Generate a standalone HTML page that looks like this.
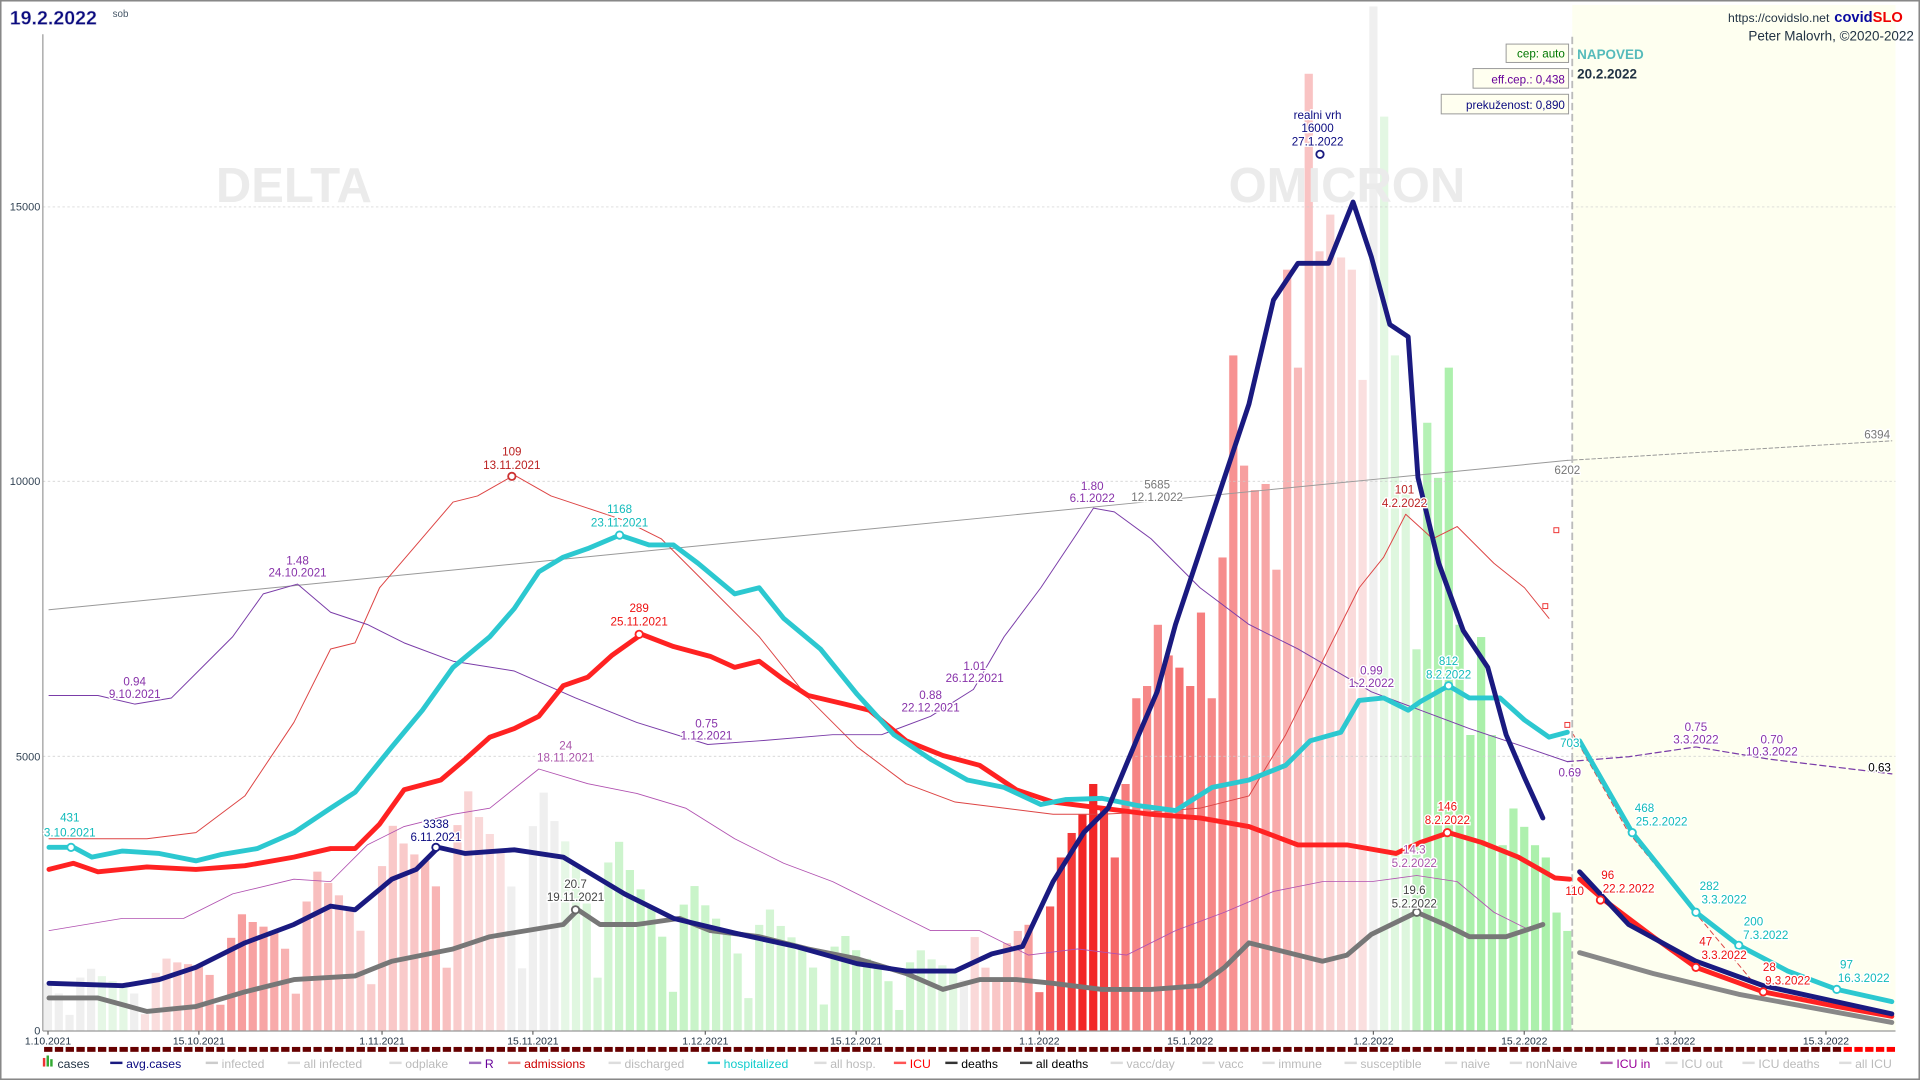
<!DOCTYPE html>
<html><head><meta charset="utf-8"><style>
html,body{margin:0;padding:0;background:#fff;overflow:hidden}
svg{display:block}
text{font-family:"Liberation Sans",sans-serif}
</style></head><body>
<svg id="s" width="1920" height="1080" viewBox="0 0 1568 882" xmlns="http://www.w3.org/2000/svg">
<rect x="0.5" y="0.5" width="1567" height="881" fill="#fff" stroke="#888" stroke-width="1.5"/>
<rect x="1284" y="4" width="264" height="838" fill="#fefff0"/>
<g id="bars"></g>
<g stroke="#ccc" stroke-width="0.6" stroke-dasharray="2,2">
<line x1="35" y1="169" x2="1548" y2="169"/><line x1="35" y1="393" x2="1548" y2="393"/><line x1="35" y1="617.6" x2="1548" y2="617.6"/>
</g>
<line x1="1284" y1="30" x2="1284" y2="842" stroke="#bbb" stroke-width="1.5" stroke-dasharray="6,3"/>
<text x="240" y="165" font-size="40" font-weight="bold" fill="#ebebeb" text-anchor="middle">DELTA</text>
<text x="1100" y="165" font-size="40" font-weight="bold" fill="#ebebeb" text-anchor="middle">OMICRON</text>
<g id="lines"></g>
<line x1="35" y1="28" x2="35" y2="842" stroke="#999" stroke-width="1"/>
<line x1="35" y1="842" x2="1548" y2="842" stroke="#999" stroke-width="1"/>
<g font-size="9" fill="#345" text-anchor="end">
<text x="33" y="172">15000</text><text x="33" y="396">10000</text><text x="33" y="621">5000</text><text x="33" y="845">0</text>
</g>
<g id="dates" font-size="8.5" fill="#234" text-anchor="middle"></g>
<g id="strip"></g>
<g id="legend" font-size="10"></g>
<g id="ann" font-size="9.5" text-anchor="middle"></g>
<text x="8" y="20" font-size="16" font-weight="bold" fill="#0a0a80" stroke="#ccd" stroke-width="0.4">19.2.2022</text>
<text x="92" y="14" font-size="8" fill="#456">sob</text>
<text x="1494" y="18" font-size="10" fill="#234" text-anchor="end">https://covidslo.net</text>
<text x="1498" y="18" font-size="12" font-weight="bold" fill="#0a0aa0">covid<tspan fill="#e00">SLO</tspan></text>
<text x="1563" y="33" font-size="11" fill="#234" text-anchor="end">Peter Malovrh, ©2020-2022</text>
<rect x="1230" y="36" width="51" height="15" fill="#fffff0" stroke="#999" stroke-width="0.8"/>
<text x="1278" y="47" font-size="9.5" fill="#070" text-anchor="end">cep: auto</text>
<rect x="1203" y="56" width="78" height="16" fill="#fffff0" stroke="#999" stroke-width="0.8"/>
<text x="1278" y="68" font-size="9.5" fill="#609" text-anchor="end">eff.cep.: 0,438</text>
<rect x="1177" y="77" width="104" height="16" fill="#fffff0" stroke="#999" stroke-width="0.8"/>
<text x="1278" y="89" font-size="9.5" fill="#0a0a80" text-anchor="end">prekuženost: 0,890</text>
<text x="1288" y="48" font-size="11" font-weight="bold" fill="#5bb">NAPOVED</text>
<text x="1288" y="64" font-size="11" font-weight="bold" fill="#234">20.2.2022</text>
</svg>
<script>
const NS="http://www.w3.org/2000/svg";
function el(p,t,a,txt){const e=document.createElementNS(NS,t);for(const k in a)e.setAttribute(k,a[k]);if(txt!=null)e.textContent=txt;document.getElementById(p).appendChild(e);return e;}
const X=d=>39.2+8.8*d;
function interp(pts,x){if(x<=pts[0][0])return pts[0][1];for(let i=1;i<pts.length;i++){if(x<=pts[i][0]){const a=pts[i-1],b=pts[i];return a[1]+(b[1]-a[1])*(x-a[0])/(b[0]-a[0]);}}return pts[pts.length-1][1];}
const navy=[[40,803],[100,805],[130,800],[160,790],[200,770],[240,755],[270,740],[290,743],[320,718],[340,710],[358,692],[380,697],[420,694],[460,700],[480,712],[510,730],[550,750],[600,762],[650,773],[700,787],[740,793],[780,793],[810,779],[835,773],[860,720],[885,680],[905,660],[930,600],[945,565],[960,510],[1000,390],[1020,330],[1040,245],[1060,215],[1085,215],[1105,165],[1120,210],[1135,265],[1150,275],[1158,390],[1175,460],[1195,515],[1215,545],[1230,600],[1245,635],[1260,668]];
const man={86:765,87:790,88:800,89:770,90:760,91:755,92:810,93:740,94:700,95:680,96:665,97:640,98:660,99:700,100:640,101:570,102:560,103:510,104:535,105:545,106:560,107:500,108:570,109:455,110:290,111:380,112:400,113:395,114:465,115:220,116:300,117:60,118:205,119:175,120:210,121:220,122:310,123:5,124:95,125:290,126:400,127:530,128:345,129:390,130:300,131:510,132:600,133:520,134:600,135:690,136:660,137:675,138:690,139:700,140:745,141:760};
const wf=[1.0,0.8,0.35,1.15,1.35,1.2,1.1];
const av=d=>842-interp(navy,X(d));
for(let d=0;d<=141;d++){
 let top;
 if(man[d]!==undefined)top=man[d];else top=842-av(d)*wf[d%7];
 const r=av(d)/Math.max(5,av(Math.max(0,d-7)));
 let c;
 if(r>1.03){const t=Math.min(1,Math.pow((r-1)/1.4,1.2));c=`rgb(${Math.round(250-8*t)},${Math.round(228-190*t)},${Math.round(228-190*t)})`;}
 else if(r<0.97){const t=Math.min(1,(1-r)/0.45);c=`rgb(${Math.round(235-65*t)},${Math.round(248-8*t)},${Math.round(235-65*t)})`;}
 else c="#efefef";
 el("bars","rect",{x:X(d)-3.6,y:top,width:7.2,height:842-top,fill:c,stroke:"#fff","stroke-width":0.5});
}
function line(pts,col,w,extra){const a={points:pts.map(p=>p.join(",")).join(" "),fill:"none",stroke:col,"stroke-width":w,"stroke-linejoin":"round","stroke-linecap":"round"};Object.assign(a,extra||{});el("lines","polyline",a);}
line([[40,498],[1280,376]],"#999",0.8);
line([[1280,376],[1545,360]],"#999",0.8,{"stroke-dasharray":"3,2"});
line([[40,685],[120,685],[160,680],[200,650],[240,590],[270,530],[290,525],[310,480],[340,445],[370,410],[390,405],[420,388],[450,405],[480,415],[510,425],[540,440],[580,480],[620,520],[660,570],[700,610],[740,640],[780,655],[820,660],[860,665],[900,665],[940,663],[980,660],[1020,650],[1050,600],[1080,540],[1110,480],[1130,455],[1148,420],[1170,440],[1190,430],[1220,460],[1245,480],[1265,505]],"#d44",0.8);
line([[1285,600],[1330,680],[1380,740],[1430,800]],"#d44",0.8,{"stroke-dasharray":"4,3"});
line([[40,568],[80,568],[110,575],[140,570],[170,540],[190,520],[215,485],[243,477],[270,500],[300,510],[330,525],[370,540],[420,548],[470,570],[520,590],[578,608],[620,605],[680,600],[720,600],[760,585],[795,563],[820,520],[850,480],[880,435],[893,415],[910,418],[940,440],[980,480],[1020,510],[1060,530],[1120,565],[1160,580],[1200,595],[1245,610],[1280,622]],"#7a3ca8",0.8);
line([[1280,622],[1330,618],[1385,610],[1445,620],[1545,632]],"#7a3ca8",1,{"stroke-dasharray":"5,3"});
line([[40,760],[100,750],[150,750],[190,730],[240,718],[270,720],[300,690],[330,675],[370,665],[400,660],[440,628],[480,640],[520,648],[560,660],[600,685],[640,705],[680,720],[720,740],[760,760],[800,760],[840,780],[880,775],[920,780],[960,760],[1000,745],[1040,728],[1080,720],[1120,720],[1157,715],[1190,720],[1220,745],[1250,760]],"#b050b0",0.7);
line([[40,815],[80,815],[120,826],[160,822],[200,810],[240,800],[290,797],[320,785],[370,775],[400,765],[430,760],[460,755],[472,743],[490,755],[520,755],[555,750],[580,760],[620,765],[660,775],[700,783],[740,795],[770,808],[800,800],[830,800],[860,803],[900,808],[940,808],[980,805],[1000,790],[1020,770],[1060,780],[1080,785],[1100,780],[1120,763],[1157,745],[1180,755],[1200,765],[1230,765],[1260,755]],"#777",4);
line([[1290,778],[1350,795],[1420,812],[1545,835]],"#888",4);
line([[40,710],[60,705],[80,712],[120,708],[160,710],[200,707],[240,700],[270,693],[290,693],[310,673],[330,645],[360,637],[380,620],[400,602],[420,595],[440,585],[460,560],[480,553],[500,535],[524,518],[550,528],[580,536],[600,545],[620,540],[640,555],[660,568],[690,575],[710,580],[740,605],[770,617],[800,625],[830,645],[860,655],[900,660],[940,665],[980,668],[1020,675],[1060,690],[1100,690],[1140,697],[1160,688],[1183,680],[1210,688],[1240,700],[1270,717],[1282,718]],"#f22",4);
line([[1290,718],[1310,735],[1350,765],[1385,790],[1440,810],[1500,822],[1545,830]],"#f22",4);
line([[40,692],[60,692],[75,700],[100,695],[130,697],[160,703],[180,698],[210,693],[240,680],[270,660],[290,647],[320,610],[345,580],[370,545],[400,520],[420,497],[440,467],[460,455],[480,448],[506,437],[530,445],[550,445],[570,460],[600,485],[620,480],[640,505],[670,530],[700,567],[730,600],[760,620],[790,637],[820,643],[850,657],[870,653],[900,652],[930,658],[960,662],[990,643],[1020,637],[1050,625],[1070,605],[1095,598],[1110,572],[1130,570],[1150,580],[1160,573],[1183,560],[1200,570],[1225,570],[1245,588],[1265,602],[1280,598]],"#2cc8d0",4);
line([[1290,605],[1333,680],[1385,745],[1420,772],[1460,793],[1500,808],[1545,818]],"#2cc8d0",4);
line(navy,"#1a1a80",4);
line([[1290,712],[1330,755],[1385,785],[1440,805],[1545,828]],"#1a1a80",4);
[[58,692,"#2cc8d0"],[418,389,"#c33"],[506,437,"#2cc8d0"],[522,518,"#f22"],[356,692,"#1a1a80"],[470,743,"#666"],[1078,126,"#1a1a80"],[1183,560,"#2cc8d0"],[1182,680,"#f22"],[1157,745,"#666"],[1307,735,"#f22"],[1333,680,"#2cc8d0"],[1385,745,"#2cc8d0"],[1420,772,"#2cc8d0"],[1385,790,"#f22"],[1440,810,"#f22"],[1500,808,"#2cc8d0"]].forEach(m=>el("lines","circle",{cx:m[0],cy:m[1],r:3,fill:"#fff",stroke:m[2],"stroke-width":1.5}));
[[1271,433],[1262,495],[1280,592]].forEach(p=>el("lines","rect",{x:p[0]-2,y:p[1]-2,width:4,height:4,fill:"#fff",stroke:"#e33","stroke-width":0.8}));
[["1.10.2021",0],["15.10.2021",14],["1.11.2021",31],["15.11.2021",45],["1.12.2021",61],["15.12.2021",75],["1.1.2022",92],["15.1.2022",106],["1.2.2022",123],["15.2.2022",137],["1.3.2022",151],["15.3.2022",165]].forEach(a=>{el("dates","text",{x:X(a[1]),y:853},a[0]);el("dates","line",{x1:X(a[1]),y1:842,x2:X(a[1]),y2:845,stroke:"#666"});});
for(let x=36;x<1546;x+=8.8){el("strip","rect",{x:x,y:855,width:6.8,height:4,fill:x>1500?"#f00":"#600"});}
const L=[["cases",35,"#234","bars"],["avg.cases",90,"#0a0a80","#1a1a80"],["infected",168,"#bbb","#ccc"],["all infected",235,"#bbb","#ddd"],["odplake",318,"#bbb","#ddd"],["R",383,"#609","#a070c0"],["admissions",415,"#c00","#e88"],["discharged",497,"#bbb","#ddd"],["hospitalized",578,"#1cc","#2cc8d0"],["all hosp.",665,"#bbb","#ddd"],["ICU",730,"#f00","#f55"],["deaths",772,"#000","#333"],["all deaths",833,"#000","#444"],["vacc/day",907,"#bbb","#ddd"],["vacc",982,"#bbb","#ddd"],["immune",1031,"#bbb","#ddd"],["susceptible",1098,"#bbb","#ddd"],["naive",1180,"#bbb","#ddd"],["nonNaive",1233,"#bbb","#ddd"],["ICU in",1307,"#909","#b060b0"],["ICU out",1360,"#bbb","#ddd"],["ICU deaths",1423,"#bbb","#ddd"],["all ICU",1502,"#bbb","#ddd"]];
L.forEach(l=>{if(l[3]=="bars"){el("legend","rect",{x:l[1],y:864,width:2,height:7,fill:"#e33"});el("legend","rect",{x:l[1]+3,y:862,width:2,height:9,fill:"#3a3"});el("legend","rect",{x:l[1]+6,y:865,width:2,height:6,fill:"#3a3"});el("legend","text",{x:l[1]+12,y:872,fill:l[2]},l[0]);}
else{el("legend","line",{x1:l[1],y1:868,x2:l[1]+10,y2:868,stroke:l[3],"stroke-width":2});el("legend","text",{x:l[1]+13,y:872,fill:l[2]},l[0]);}});
const A=[["431",57,671,"#1bb"],["3.10.2021",57,683,"#1bb"],["1.48",243,461,"#83a"],["24.10.2021",243,471,"#83a"],["0.94",110,560,"#83a"],["9.10.2021",110,570,"#83a"],["109",418,372,"#b22"],["13.11.2021",418,383,"#b22"],["1168",506,419,"#1bb"],["23.11.2021",506,430,"#1bb"],["289",522,500,"#e11"],["25.11.2021",522,511,"#e11"],["24",462,612,"#a5a"],["18.11.2021",462,622,"#a5a"],["3338",356,676,"#0a0a80"],["6.11.2021",356,687,"#0a0a80"],["20.7",470,725,"#444"],["19.11.2021",470,736,"#444"],["0.75",577,594,"#83a"],["1.12.2021",577,604,"#83a"],["0.88",760,571,"#83a"],["22.12.2021",760,581,"#83a"],["1.01",796,547,"#83a"],["26.12.2021",796,557,"#83a"],["1.80",892,400,"#83a"],["6.1.2022",892,410,"#83a"],["5685",945,399,"#777"],["12.1.2022",945,409,"#777"],["realni vrh",1076,97,"#0a0a80"],["16000",1076,108,"#0a0a80"],["27.1.2022",1076,119,"#0a0a80"],["101",1147,403,"#b22"],["4.2.2022",1147,414,"#b22"],["0.99",1120,551,"#83a"],["1.2.2022",1120,561,"#83a"],["812",1183,543,"#1bb"],["8.2.2022",1183,554,"#1bb"],["146",1182,662,"#e11"],["8.2.2022",1182,673,"#e11"],["14.3",1155,697,"#a5a"],["5.2.2022",1155,708,"#a5a"],["19.6",1155,730,"#444"],["5.2.2022",1155,741,"#444"],["6202",1280,387,"#777"],["6394",1533,358,"#777"],["703",1282,610,"#1bb"],["0.69",1282,634,"#83a"],["110",1286,731,"#e11"],["96",1313,718,"#e11"],["22.2.2022",1330,729,"#e11"],["468",1343,663,"#1bb"],["25.2.2022",1357,674,"#1bb"],["282",1396,727,"#1bb"],["3.3.2022",1408,738,"#1bb"],["200",1432,756,"#1bb"],["7.3.2022",1442,767,"#1bb"],["47",1393,772,"#e11"],["3.3.2022",1408,783,"#e11"],["28",1445,793,"#e11"],["9.3.2022",1460,804,"#e11"],["97",1508,791,"#1bb"],["16.3.2022",1522,802,"#1bb"],["0.75",1385,597,"#83a"],["3.3.2022",1385,607,"#83a"],["0.70",1447,607,"#83a"],["10.3.2022",1447,617,"#83a"],["0.63",1535,630,"#000"]];
A.forEach(a=>el("ann","text",{x:a[1],y:a[2],fill:a[3],stroke:"#fff","stroke-width":2.2,"paint-order":"stroke"},a[0]));
</script>
</body></html>
